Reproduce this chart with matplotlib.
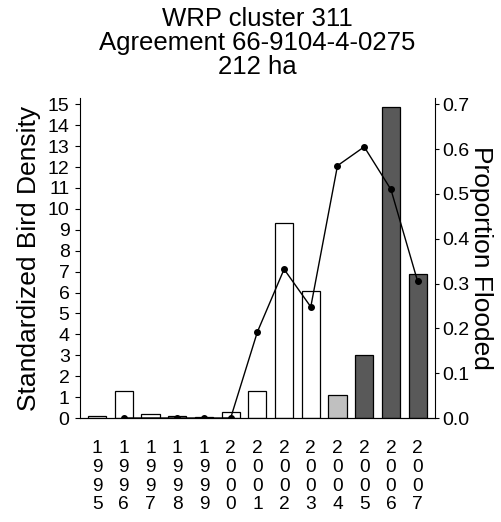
import matplotlib
matplotlib.use("Agg")
import matplotlib.pyplot as plt
import numpy as np

plt.rcParams['font.family'] = ['Liberation Sans', 'DejaVu Sans']

years = ['1995', '1996', '1997', '1998', '1999', '2000', '2001',
         '2002', '2003', '2004', '2005', '2006', '2007']
density = [0.1, 1.27, 0.2, 0.1, 0.05, 0.3, 1.3, 9.33, 6.07, 1.1, 3.0, 14.85, 6.87]
bar_colors = ['white'] * 9 + ['#c0c0c0', '#595959', '#595959', '#595959']
flooded = [np.nan, 0.0, np.nan, 0.0, 0.0, 0.0, 0.192, 0.332, 0.248, 0.563, 0.605, 0.51, 0.305]

title = "WRP cluster 311\nAgreement 66-9104-4-0275\n212 ha"

fig = plt.figure(figsize=(5.02, 5.22), dpi=100)
ax = fig.add_axes([0.1594, 0.1992, 0.7071, 0.6131])
x = np.arange(len(years))
ax.bar(x, density, width=0.68, color=bar_colors, edgecolor='black', linewidth=0.9, zorder=2)
ax.set_xlim(-0.64, 12.65)
ax.set_ylim(0, 15.3)
ax.set_yticks(range(0, 16))
ax.set_xticks(x)
ax.set_xticklabels(["\n".join(y) for y in years], fontsize=13.8, linespacing=1.13)
ax.tick_params(axis='x', length=0, pad=16)
ax.tick_params(axis='y', length=3.5, width=0.8, pad=4, labelsize=14, direction='out')
for s in ['top', 'right']:
    ax.spines[s].set_visible(False)
ax.set_ylabel("Standardized Bird Density", fontsize=19, labelpad=5)

ax2 = ax.twinx()
mask = ~np.isnan(np.array(flooded))
ax2.plot(x[mask], np.array(flooded)[mask], color='black', linewidth=1.0,
         marker='o', markersize=4, zorder=3)
ax2.set_ylim(0, 0.7 * 15.3 / 15)
ax2.set_yticks(np.arange(0, 0.71, 0.1))
ax2.set_yticklabels([f"{v:.1f}" for v in np.arange(0, 0.71, 0.1)])
ax2.tick_params(axis='y', length=3, width=0.8, pad=2, labelsize=14, direction='out')
for s in ['top', 'left']:
    ax2.spines[s].set_visible(False)
ax2.set_ylabel("Proportion Flooded", fontsize=19, rotation=270, labelpad=0, va='bottom')

ax.set_title(title, fontsize=18.5, linespacing=1.0, pad=17)

fig.savefig("out.png", dpi=100)
